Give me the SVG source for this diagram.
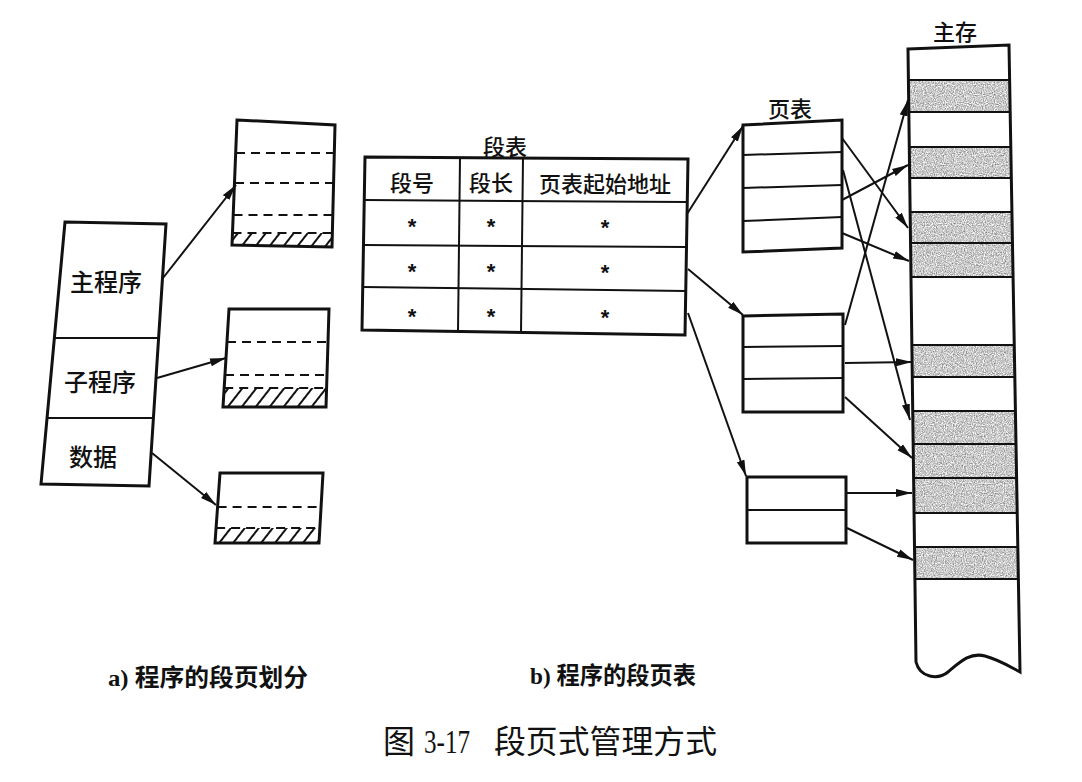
<svg xmlns="http://www.w3.org/2000/svg" width="1082" height="782" viewBox="0 0 1082 782">
  <defs>
    <marker id="arrow" markerUnits="userSpaceOnUse" markerWidth="17" markerHeight="9" refX="16" refY="4.5" orient="auto">
      <path d="M0,0.5 L16,4.5 L0,8.5 z" fill="#111"/>
    </marker>
    <pattern id="hatch" patternUnits="userSpaceOnUse" width="11" height="11" patternTransform="rotate(38)">
      <rect x="0" y="0" width="2" height="11" fill="#111"/>
    </pattern>
    <!-- stippled grey for occupied memory blocks -->
    <filter id="grain" x="0" y="0" width="100%" height="100%" color-interpolation-filters="sRGB">
      <feTurbulence type="fractalNoise" baseFrequency="0.9" numOctaves="2" seed="5" result="noise"/>
      <feColorMatrix in="noise" type="saturate" values="0" result="grey"/>
      <feComponentTransfer in="grey" result="tone">
        <feFuncR type="linear" slope="1.1" intercept="0.24"/>
        <feFuncG type="linear" slope="1.1" intercept="0.24"/>
        <feFuncB type="linear" slope="1.1" intercept="0.24"/>
        <feFuncA type="linear" slope="0" intercept="1"/>
      </feComponentTransfer>
      <feComposite in="tone" in2="SourceGraphic" operator="in"/>
    </filter>
  </defs>
  <style>
    .box{fill:none;stroke:#111;stroke-width:3;stroke-linejoin:miter}
    .div{stroke:#111;stroke-width:2;fill:none}
    .dash{stroke:#111;stroke-width:2;stroke-dasharray:9 6;fill:none}
    .lbl{font-family:"Noto Sans CJK SC",sans-serif;font-size:22px;font-weight:500;fill:#111;text-anchor:middle;dominant-baseline:central}
    .big{font-size:24px}
    .star{font-family:"Liberation Sans",sans-serif;font-weight:bold;font-size:22px;text-anchor:middle;fill:#111}
    .shade{fill:#cdcdcd}
    #connectors line{stroke:#111;stroke-width:2;marker-end:url(#arrow)}
    .cap{font-family:"Liberation Serif","Noto Sans CJK SC",serif;fill:#111}
  </style>

  <rect width="1082" height="782" fill="#fff"/>

  <!-- program split into segments -->
  <g id="program">
    <polygon class="box" points="65,222 166,224 149,486 41,484"/>
    <line class="div" x1="55" y1="338" x2="158" y2="338"/>
    <line class="div" x1="47" y1="418" x2="153" y2="418"/>
    <text class="lbl big" x="106" y="280">主程序</text>
    <text class="lbl big" x="100" y="380">子程序</text>
    <text class="lbl big" x="93" y="455">数据</text>
  </g>

  <!-- segments split into pages -->
  <g id="seg-main">
    <polygon points="232.5,233 332.3,233 332,247 232,245" fill="url(#hatch)"/>
    <line class="dash" x1="236" y1="153" x2="334" y2="153"/>
    <line class="dash" x1="235" y1="183" x2="333.6" y2="183"/>
    <line class="dash" x1="233.5" y1="215" x2="332.8" y2="215"/>
    <line class="dash" x1="232.5" y1="233" x2="332.3" y2="233"/>
    <polygon class="box" points="237,120 335,125 332,247 232,245"/>
  </g>
  <g id="seg-sub">
    <polygon points="224.2,388 326.6,388 326,407 223,407" fill="url(#hatch)"/>
    <line class="dash" x1="227" y1="342" x2="328" y2="342"/>
    <line class="dash" x1="225" y1="375" x2="327" y2="375"/>
    <line class="dash" x1="224.2" y1="388" x2="326.6" y2="388"/>
    <polygon class="box" points="229,309 329,309 326,407 223,407"/>
  </g>
  <g id="seg-data">
    <polygon points="216.1,528 319.9,528 319,543 215,543" fill="url(#hatch)"/>
    <line class="dash" x1="217.6" y1="507" x2="321" y2="507"/>
    <line class="dash" x1="216.1" y1="528" x2="319.9" y2="528"/>
    <polygon class="box" points="220,473 323,473 319,543 215,543"/>
  </g>

  <!-- segment table -->
  <g id="segment-table">
    <text class="lbl" x="505" y="145">段表</text>
    <polygon class="box" points="365,157 688,159 685,335 362,330"/>
    <line class="div" x1="460" y1="158" x2="458" y2="332"/>
    <line class="div" x1="523" y1="158" x2="521" y2="333"/>
    <line class="div" x1="364.3" y1="200" x2="687.3" y2="202"/>
    <line class="div" x1="363.5" y1="245" x2="686.5" y2="247"/>
    <line class="div" x1="362.7" y1="287" x2="685.8" y2="291"/>
    <text class="lbl" x="412" y="181">段号</text>
    <text class="lbl" x="491" y="181">段长</text>
    <text class="lbl" x="605" y="182">页表起始地址</text>
    <text class="star" x="412" y="234">*</text>
    <text class="star" x="491" y="234">*</text>
    <text class="star" x="605" y="235">*</text>
    <text class="star" x="412" y="279">*</text>
    <text class="star" x="491" y="279">*</text>
    <text class="star" x="605" y="280">*</text>
    <text class="star" x="412" y="324">*</text>
    <text class="star" x="491" y="324">*</text>
    <text class="star" x="605" y="325">*</text>
  </g>

  <!-- page tables -->
  <g id="page-table-1">
    <text class="lbl" x="790" y="107">页表</text>
    <polygon class="box" points="743,125 842,120 842,248 743,252"/>
    <line class="div" x1="743" y1="155" x2="842" y2="152"/>
    <line class="div" x1="743" y1="188" x2="842" y2="185"/>
    <line class="div" x1="743" y1="221" x2="842" y2="217"/>
  </g>
  <g id="page-table-2">
    <polygon class="box" points="743,316 843,314 843,412 743,412"/>
    <line class="div" x1="743" y1="347" x2="843" y2="346"/>
    <line class="div" x1="743" y1="379" x2="843" y2="378"/>
  </g>
  <g id="page-table-3">
    <polygon class="box" points="747,477 846,477 846,543 747,543"/>
    <line class="div" x1="747" y1="510" x2="846" y2="510"/>
  </g>

  <!-- main memory -->
  <g id="memory">
    <text class="lbl" x="955" y="30">主存</text>
    <g filter="url(#grain)">
      <polygon class="shade" points="908.4,80 1009.6,80 1010.2,112 908.8,112"/>
      <polygon class="shade" points="909.3,147 1010.8,147 1011.3,178 909.7,178"/>
      <polygon class="shade" points="910.2,212 1011.9,212 1013.1,277 911,277"/>
      <polygon class="shade" points="911.8,345 1014.3,345 1014.8,377 912.2,377"/>
      <polygon class="shade" points="912.7,411 1015.4,411 1017.2,513 914,513"/>
      <polygon class="shade" points="914.5,547 1017.8,547 1018.4,579 914.9,579"/>
    </g>
    <g class="div">
      <line x1="908.4" y1="80" x2="1009.6" y2="80"/>
      <line x1="908.8" y1="112" x2="1010.2" y2="112"/>
      <line x1="909.3" y1="147" x2="1010.8" y2="147"/>
      <line x1="909.7" y1="178" x2="1011.3" y2="178"/>
      <line x1="910.2" y1="212" x2="1011.9" y2="212"/>
      <line x1="910.5" y1="243" x2="1012.5" y2="243"/>
      <line x1="911" y1="277" x2="1013.1" y2="277"/>
      <line x1="911.8" y1="345" x2="1014.3" y2="345"/>
      <line x1="912.2" y1="377" x2="1014.8" y2="377"/>
      <line x1="912.7" y1="411" x2="1015.4" y2="411"/>
      <line x1="913.1" y1="444" x2="1016" y2="444"/>
      <line x1="913.6" y1="478" x2="1016.6" y2="478"/>
      <line x1="914" y1="513" x2="1017.2" y2="513"/>
      <line x1="914.5" y1="547" x2="1017.8" y2="547"/>
      <line x1="914.9" y1="579" x2="1018.4" y2="579"/>
    </g>
    <path class="box" d="M908,49 L1009,45 L1020,672 C1012,668 1000,660 985,656 C970,652 960,662 948,672 C938,680 920,678 916,662 Z"/>
  </g>

  <!-- connectors -->
  <g id="connectors">
    <line x1="163" y1="278" x2="236" y2="185"/>
    <line x1="157" y1="378" x2="226" y2="358"/>
    <line x1="152" y1="453" x2="216" y2="505"/>
    <line x1="687" y1="214" x2="743" y2="126"/>
    <line x1="688" y1="269" x2="743" y2="315"/>
    <line x1="688" y1="313" x2="746" y2="476"/>
    <line x1="842" y1="138" x2="908" y2="228"/>
    <line x1="843" y1="170" x2="910" y2="420"/>
    <line x1="842" y1="200" x2="908" y2="165"/>
    <line x1="842" y1="233" x2="909" y2="261"/>
    <line x1="845" y1="325" x2="908" y2="100"/>
    <line x1="845" y1="363" x2="912" y2="362"/>
    <line x1="845" y1="397" x2="912" y2="458"/>
    <line x1="847" y1="493" x2="912" y2="493"/>
    <line x1="847" y1="528" x2="913" y2="560"/>
  </g>

  <!-- captions -->
  <g id="captions">
    <text class="cap" x="108" y="686" font-size="24" font-weight="bold" textLength="200" lengthAdjust="spacingAndGlyphs">a) 程序的段页划分</text>
    <text class="cap" x="530" y="684" font-size="24" font-weight="bold" textLength="166" lengthAdjust="spacingAndGlyphs">b) 程序的段页表</text>
    <text class="cap" x="383" y="753" font-size="32">图</text>
    <text class="cap" x="424" y="753" font-size="34" textLength="46" lengthAdjust="spacingAndGlyphs">3-17</text>
    <text class="cap" x="494" y="753" font-size="32" textLength="223" lengthAdjust="spacingAndGlyphs">段页式管理方式</text>
  </g>
</svg>
